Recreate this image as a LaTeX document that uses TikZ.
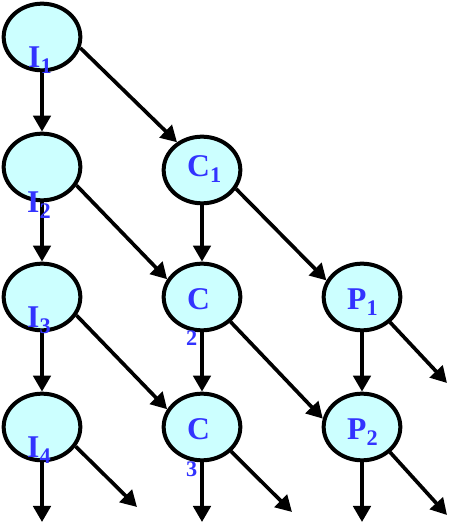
\documentclass[tikz,border=0pt]{standalone}
\usepackage{fontspec}
\setmainfont{Liberation Serif}
\usetikzlibrary{shapes.geometric,arrows.meta}
\definecolor{cellfill}{RGB}{204,255,255}
\definecolor{lblblue}{RGB}{51,51,255}
\newcommand{\lsub}[1]{\raisebox{-0.17cm}{\fontsize{19}{19}\selectfont #1}}

\begin{document}
\begin{tikzpicture}[x=0.03cm, y=0.03cm,
    proc/.style={draw, ellipse, line width=0.12cm, fill=cellfill, minimum width=2.3cm, minimum height=2.0cm, inner sep=0pt},
    lbl/.style={anchor=base west, inner sep=0pt, text=lblblue, font=\bfseries\fontsize{27}{30}\selectfont},
    flow/.style={line width=0.11cm, -{Triangle[length=0.48cm,width=0.52cm]}}]
                \useasboundingbox (0,0) rectangle (453,523);
                % stages
                \node[proc] (I1) at (42,486) {};
                \node[proc] (I2) at (42,356) {};
                \node[proc] (I3) at (42,226) {};
                \node[proc] (I4) at (42,96) {};
                \node[proc] (C1) at (202,353) {};
                \node[proc] (C2) at (202,226) {};
                \node[proc] (C3) at (202,96) {};
                \node[proc] (P1) at (362,226) {};
                \node[proc] (P2) at (362,96) {};
                % free ends
                \coordinate (outI) at (42,1);
                \coordinate (outC) at (202,1);
                \coordinate (outP) at (362,1);
                \coordinate (outI4) at (137,16);
                \coordinate (outC3) at (292,11);
                \coordinate (outP1) at (447,140);
                \coordinate (outP2) at (447,8);
                % vertical flow
                \draw[flow] (I1) -- (I2);
                \draw[flow] (I2) -- (I3);
                \draw[flow] (I3) -- (I4);
                \draw[flow] (I4) -- (outI);
                \draw[flow] (C1) -- (C2);
                \draw[flow] (C2) -- (C3);
                \draw[flow] (C3) -- (outC);
                \draw[flow] (P1) -- (P2);
                \draw[flow] (P2) -- (outP);
                % diagonal flow
                \draw[flow] (I1.-16) -- (C1.132);
                \draw[flow] (I2.-28) -- (C2.153);
                \draw[flow] (I3.-28) -- (C3.153);
                \draw[flow] (I4.-30) -- (outI4);
                \draw[flow] (C1.-29) -- (P1.155);
                \draw[flow] (C2.-41) -- (P2.168);
                \draw[flow] (C3.-40) -- (outC3);
                \draw[flow] (P1.-42) -- (outP1);
                \draw[flow] (P2.-42) -- (outP2);
                % labels
                \node[lbl] (tI1) at (28,455) {I\lsub{1}};
                \node[lbl] (tI2) at (27,310) {I\lsub{2}};
                \node[lbl] (tI3) at (27,195) {I\lsub{3}};
                \node[lbl] (tI4) at (27,65) {I\lsub{4}};
                \node[lbl] (tC1) at (187,346) {C\lsub{1}};
                \node[lbl] (tC2) at (187,213) {C};
                \node[lbl, font=\bfseries\fontsize{19}{19}\selectfont] (tC2s) at (186,177) {2};
                \node[lbl] (tC3) at (187,83) {C};
                \node[lbl, font=\bfseries\fontsize{19}{19}\selectfont] (tC3s) at (186,46) {3};
                \node[lbl] (tP1) at (347,213) {P\lsub{1}};
                \node[lbl] (tP2) at (347,83) {P\lsub{2}};
            \end{tikzpicture}
\end{document}
